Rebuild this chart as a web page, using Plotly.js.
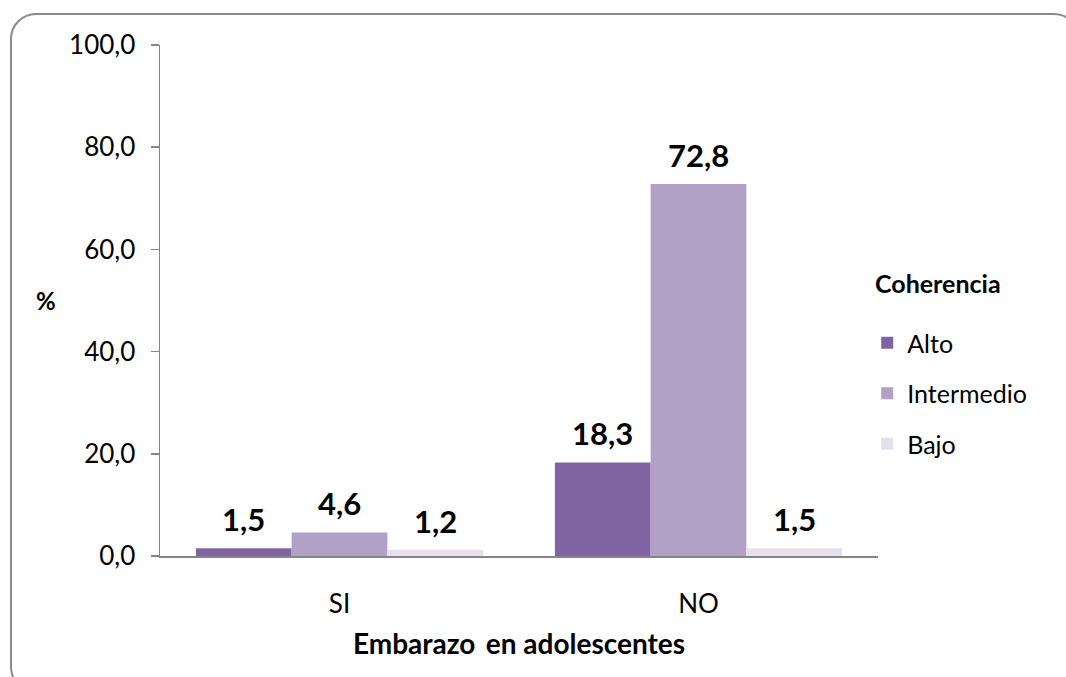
<!DOCTYPE html>
<html>
<head>
<meta charset="utf-8">
<script src="https://cdn.plot.ly/plotly-3.0.1.min.js"></script>
<style>
  html, body { margin: 0; padding: 0; background: #fff; overflow: hidden; }
  #wrap { position: relative; width: 1066px; height: 677px; }
  #frame {
    position: absolute; left: 10px; top: 13px; width: 1070px; height: 680px;
    border: 2px solid #8a8a8a; border-radius: 26px; box-sizing: border-box;
    pointer-events: none;
  }
  #chart { position: absolute; left: 0; top: 0; width: 1066px; height: 677px; }
</style>
</head>
<body>
<div id="wrap">
  <div id="chart"></div>
  <div id="frame"></div>
</div>
<script>
// Embarazo en adolescentes (SI / NO) by level of Coherencia, in %
const categories = ['SI', 'NO'];
const seriesNames = ['Alto', 'Intermedio', 'Bajo'];
const alto = [1.5, 18.3];
const intermedio = [4.6, 72.8];
const bajo = [1.2, 1.5];
const yTicks = [0, 20, 40, 60, 80, 100];

const seriesValues = [alto, intermedio, bajo];
const colors = ['#8064A2', '#B2A1C7', '#E6E0EC'];
const FONT = 'Lato, Carlito, Calibri, "Open Sans", sans-serif';

const W = 1066, H = 677;
const margin = { l: 160, r: 188, t: 45, b: 121 };
const plotW = W - margin.l - margin.r;
const plotH = H - margin.t - margin.b;
const bargap = 0.2;
const barW = plotW / categories.length * (1 - bargap) / seriesNames.length;

const traces = seriesNames.map((name, i) => ({
  type: 'bar',
  name: name,
  x: categories,
  y: seriesValues[i],
  marker: { color: colors[i], line: { width: 0 } },
  legendgroup: name,
  hoverinfo: 'x+y+name'
}));

// value labels above each bar
const annotations = [];
seriesValues.forEach((vals, i) => {
  vals.forEach((v, j) => {
    annotations.push({
      x: categories[j], y: v, xref: 'x', yref: 'y',
      text: v.toFixed(1).replace('.', ','),
      showarrow: false,
      xanchor: 'center', yanchor: 'bottom',
      xshift: (i - 1) * barW, yshift: 8,
      font: { family: FONT, size: 31, color: '#000', weight: 'bold' }
    });
  });
});

// "%" label beside the value axis
annotations.push({
  xref: 'paper', yref: 'paper',
  x: (46 - margin.l) / plotW, y: 0.5,
  text: '%', showarrow: false,
  xanchor: 'center', yanchor: 'middle',
  font: { family: FONT, size: 24, color: '#000', weight: 'bold' }
});

// legend heading
annotations.push({
  xref: 'paper', yref: 'paper',
  x: (873 - margin.l) / plotW, y: 1 - (283 - margin.t) / plotH,
  text: 'Coherencia', showarrow: false,
  xanchor: 'left', yanchor: 'middle',
  font: { family: FONT, size: 25, color: '#000', weight: 'bold' }
});

const layout = {
  width: W, height: H,
  margin: margin,
  paper_bgcolor: 'rgba(0,0,0,0)',
  plot_bgcolor: 'rgba(0,0,0,0)',
  barmode: 'group',
  bargap: bargap,
  bargroupgap: 0,
  separators: ',.',
  font: { family: FONT, size: 26, color: '#000' },
  xaxis: {
    type: 'category',
    showline: true, linecolor: '#868686', linewidth: 1.5,
    ticks: '', showgrid: false, zeroline: false,
    ticklabelstandoff: 24,
    tickfont: { family: FONT, size: 26, color: '#000' },
    title: {
      text: 'Embarazo\u2009 en adolescentes',
      font: { family: FONT, size: 28, color: '#000', weight: 'bold' },
      standoff: 16
    }
  },
  yaxis: {
    range: [0, 100],
    tickvals: yTicks,
    tickformat: '.1f',
    showline: true, linecolor: '#868686', linewidth: 1.5,
    ticks: 'outside', ticklen: 8, tickcolor: '#868686', tickwidth: 1.5,
    ticklabelstandoff: 10,
    showgrid: false, zeroline: false,
    tickfont: { family: FONT, size: 26, color: '#000' }
  },
  legend: {
    x: 0.985, xanchor: 'left', y: 1 - (320 - margin.t) / plotH, yanchor: 'top',
    traceorder: 'grouped',
    tracegroupgap: 15,
    itemwidth: 30,
    font: { family: FONT, size: 25, color: '#000' }
  },
  annotations: annotations,
  showlegend: true
};

Plotly.newPlot('chart', traces, layout, { displayModeBar: false, staticPlot: true });
</script>
</body>
</html>
